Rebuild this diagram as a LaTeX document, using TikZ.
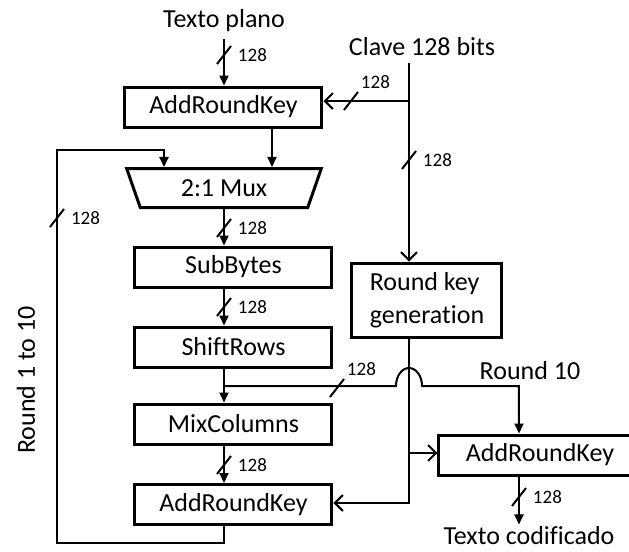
\documentclass[tikz,border=0pt]{standalone}
\usepackage{fontspec}
\setmainfont{Carlito}[Ligatures=NoCommon]
\usetikzlibrary{arrows.meta,positioning,calc,shapes.geometric}
% slash on a bus line, with its width
\newcommand{\busmark}[3]{\draw[wire] (#1) +(-7,9) -- +(7,-9) node[busno, #2] (#3) {128};}

\begin{document}
\begin{tikzpicture}[x=0.5pt, y=-0.5pt,
  font=\fontsize{13}{16.5}\selectfont,
  blk/.style={draw, line width=1.5pt, minimum width=98.5pt, minimum height=20pt, inner sep=0pt},
  wire/.style={line width=1pt},
  dat/.style={wire, -{Triangle[length=5pt, width=4.5pt]}},
  key/.style={wire, -{Straight Barb[length=4pt, width=8pt]}},
  busno/.style={font=\fontsize{9.5}{11}\selectfont, inner sep=1pt}
]
\clip (0,0) rectangle (629,552);

% column of steps
\node (plain) at (224,21) {Texto plano};
\node[blk] (ark1) at (223.5,107) {AddRoundKey};
\node[draw, line width=1.5pt, trapezium, shape border rotate=180, trapezium angle=67.7,
  trapezium stretches=true, minimum width=97.5pt, minimum height=19.5pt, inner sep=0pt]
  (mux) at (224,188) {2:1 Mux};
\node[blk] (sub) at (233.5,267) {SubBytes};
\node[blk] (shift) at (233.5,347) {ShiftRows};
\node[blk] (mix) at (233.5,424) {MixColumns};
\node[blk] (ark2) at (233.5,504.5) {AddRoundKey};

% key side
\node (clave) at (422,47) {Clave 128 bits};
\node[blk, minimum width=75pt, minimum height=37pt, align=left] (rkg) at (427,300) {Round key\\generation};
\node[blk, minimum width=101pt] (ark3) at (540,455) {AddRoundKey};
\node (r10) at (530,371) {Round 10};
\node[inner sep=1pt] (coded) at (529,536) {Texto codificado};
\node[rotate=90] (rounds) at (26,380) {Round 1 to 10};

\coordinate (cx) at (224,0);
\coordinate (kx) at (409,0);
\coordinate (ox) at (519,0);
\coordinate (m2) at (272,0);
\coordinate (fb) at (164,150);
\coordinate (lp) at (57,543);
\coordinate (ktop) at (409,101);
\coordinate (br) at (224,386);
\coordinate (kr) at (409,453);
\coordinate (kb) at (409,503);

% data path
\draw[dat] (plain.south -| cx) -- (ark1.north -| cx);
\busmark{224,55}{anchor=north west, xshift=2pt}{w1}
\draw[dat] (ark1.south -| m2) -- (mux.north -| m2);
\draw[dat] (mux.south -| cx) -- (sub.north -| cx);
\busmark{224,228}{anchor=north west, xshift=2pt}{w2}
\draw[dat] (sub.south -| cx) -- (shift.north -| cx);
\busmark{224,307}{anchor=north west, xshift=2pt}{w3}
\draw[dat] (shift.south -| cx) -- (mix.north -| cx);
\draw[dat] (mix.south -| cx) -- (ark2.north -| cx);
\busmark{224,465}{anchor=north west, xshift=2pt}{w4}
\draw[dat] (ark2.south -| cx) |- (lp) |- (fb) -- (mux.north -| fb);
\busmark{57,218}{anchor=north west, xshift=2pt}{w5}
\draw[dat] (br) -- (396,386) arc[start angle=180, end angle=360, x radius=13, y radius=18]
  -| (ark3.north -| ox);
\busmark{337,388}{anchor=south west}{w6}
\draw[dat] (ark3.south -| ox) -- (coded.north -| ox);
\busmark{519,497}{anchor=north west, xshift=2pt}{w7}

% key path
\draw[key] (clave.south -| kx) -- (rkg.north -| kx);
\busmark{409,160}{anchor=north west, xshift=2pt}{w8}
\draw[key] (ktop) -- (ark1.east |- ktop);
\busmark{351,101}{anchor=south west}{w9}
\draw[key] (rkg.south -| kx) -- (kb) -- (ark2.east |- kb);
\draw[key] (kr) -- (ark3.west |- kr);
\end{tikzpicture}
\end{document}
